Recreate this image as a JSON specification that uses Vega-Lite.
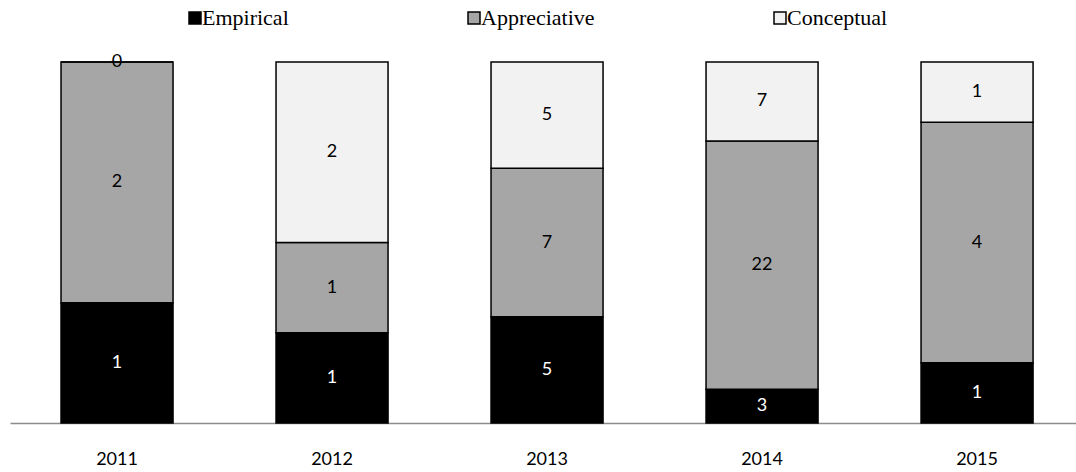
{
  "$schema": "https://vega.github.io/schema/vega-lite/v6.json",
  "width": 1066,
  "height": 361,
  "autosize": {"type": "none"},
  "padding": {"left": 10, "top": 62, "right": 0, "bottom": 49},
  "background": "white",
  "config": {"view": {"stroke": null}},
  "data": {
    "values": [
      {"year": "2011", "category": "Empirical", "order": 1, "value": 1},
      {"year": "2011", "category": "Appreciative", "order": 2, "value": 2},
      {"year": "2011", "category": "Conceptual", "order": 3, "value": 0},
      {"year": "2012", "category": "Empirical", "order": 1, "value": 1},
      {"year": "2012", "category": "Appreciative", "order": 2, "value": 1},
      {"year": "2012", "category": "Conceptual", "order": 3, "value": 2},
      {"year": "2013", "category": "Empirical", "order": 1, "value": 5},
      {"year": "2013", "category": "Appreciative", "order": 2, "value": 7},
      {"year": "2013", "category": "Conceptual", "order": 3, "value": 5},
      {"year": "2014", "category": "Empirical", "order": 1, "value": 3},
      {"year": "2014", "category": "Appreciative", "order": 2, "value": 22},
      {"year": "2014", "category": "Conceptual", "order": 3, "value": 7},
      {"year": "2015", "category": "Empirical", "order": 1, "value": 1},
      {"year": "2015", "category": "Appreciative", "order": 2, "value": 4},
      {"year": "2015", "category": "Conceptual", "order": 3, "value": 1}
    ]
  },
  "transform": [
    {
      "stack": "value",
      "groupby": ["year"],
      "sort": [{"field": "order", "order": "ascending"}],
      "offset": "normalize",
      "as": ["y0", "y1"]
    },
    {"calculate": "(datum.y0 + datum.y1) / 2", "as": "mid"}
  ],
  "encoding": {
    "x": {
      "field": "year",
      "type": "nominal",
      "sort": null,
      "scale": {"paddingInner": 0.479, "paddingOuter": 0.2185, "align": 0.543},
      "axis": {
        "title": null,
        "labelAngle": 0,
        "ticks": false,
        "domainColor": "#8c8c8c",
        "domainWidth": 1.5,
        "labelPadding": 27,
        "labelFont": "Lato",
        "labelFontSize": 18,
        "labelColor": "#000000"
      }
    }
  },
  "layer": [
    {
      "mark": {"type": "bar", "stroke": "#000000", "strokeWidth": 1.5},
      "encoding": {
        "y": {
          "field": "y1",
          "type": "quantitative",
          "scale": {"domain": [0, 1], "nice": false, "zero": true},
          "axis": null
        },
        "y2": {"field": "y0"},
        "fill": {
          "field": "category",
          "type": "nominal",
          "scale": {
            "domain": ["Empirical", "Appreciative", "Conceptual"],
            "range": ["#000000", "#a6a6a6", "#f2f2f2"]
          },
          "legend": {
            "title": null,
            "orient": "none",
            "direction": "horizontal",
            "legendX": 174,
            "legendY": -55,
            "padding": 0,
            "symbolType": "square",
            "symbolSize": 144,
            "symbolStrokeColor": "#000000",
            "symbolStrokeWidth": 1.5,
            "labelFont": "Liberation Serif",
            "labelFontSize": 22,
            "labelColor": "#000000",
            "labelOffset": -4,
            "columnPadding": 174
          }
        }
      }
    },
    {
      "mark": {"type": "text", "font": "Lato", "fontSize": 18, "baseline": "middle", "align": "center"},
      "encoding": {
        "y": {"field": "mid", "type": "quantitative", "scale": {"domain": [0, 1], "nice": false}},
        "text": {"field": "value", "type": "quantitative"},
        "color": {
          "condition": {"test": "datum.category === 'Empirical'", "value": "#ffffff"},
          "value": "#000000"
        }
      }
    }
  ]
}
